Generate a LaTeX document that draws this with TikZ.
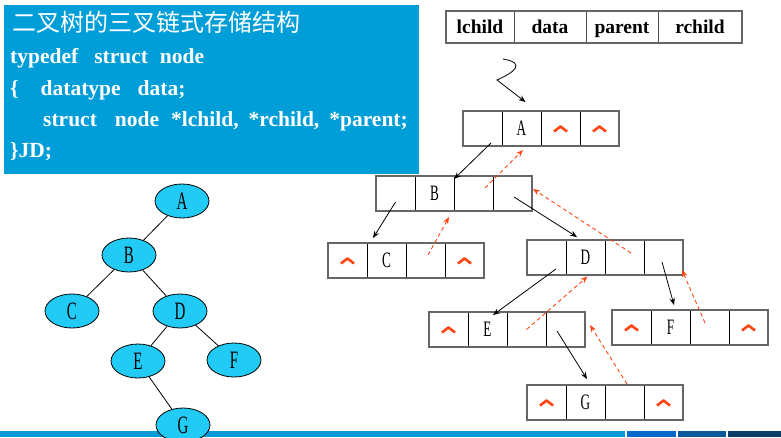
\documentclass[tikz,border=0pt]{standalone}
\usepackage{fontspec}
\setmainfont{Liberation Serif}
\newfontfamily\cjkfont{Noto Sans CJK SC}
\newfontfamily\narrowserif[FakeStretch=0.6]{Liberation Serif}
\usetikzlibrary{arrows.meta,positioning,shapes.geometric}
\definecolor{slideblue}{HTML}{009ED8}
\definecolor{treecyan}{HTML}{22CBF5}
\definecolor{nilred}{HTML}{FF4512}
\definecolor{bandA}{HTML}{0A9AD6}
\definecolor{bandB}{HTML}{0868C8}
\definecolor{bandC}{HTML}{0A5A9A}
\definecolor{bandD}{HTML}{0A3E66}
\tikzset{recordcell/.style={draw,line width=.8pt,minimum width=39pt,minimum height=35pt,inner sep=0pt,outer sep=0pt,font=\narrowserif\fontsize{22}{24}\selectfont}, recframe/.style={draw=black!60,line width=1.3pt},headcell/.style={draw=black!70,line width=1pt,minimum height=32pt,inner sep=0pt,outer sep=0pt,text height=15pt,text depth=2pt,font=\bfseries\fontsize{19.5}{22}\selectfont}, codeline/.style={anchor=base west,text=white,inner sep=0pt,font=\bfseries\fontsize{21.5}{24}\selectfont},childptr/.style={line width=.8pt,-{Stealth[length=7pt,width=5.5pt]}},parentptr/.style={draw=nilred,line width=.9pt,dash pattern=on 4pt off 3pt,-{Stealth[length=7pt,width=5.5pt]}}, nilmark/.style={draw=nilred,line width=2.6pt,line join=round},treenode/.style={ellipse,draw,line width=.8pt,fill=treecyan,minimum width=54pt,minimum height=34pt,inner sep=0pt,font=\narrowserif\fontsize{25}{28}\selectfont},treeedge/.style={line width=.8pt}}
% one trident node: name, top-left corner, lchild, data, parent, rchild
\newcommand{\tripnode}[6]{%
\node[recordcell,anchor=north west] (#1l) at (#2) {#3};
\node[recordcell,right=0pt of #1l] (#1d) {#4};
\node[recordcell,right=0pt of #1d] (#1p) {#5};
\node[recordcell,right=0pt of #1p] (#1r) {#6};
\draw[recframe] (#1l.north west) rectangle (#1r.south east);}

\begin{document}
\begin{tikzpicture}[x=1pt,y=-1pt]
\useasboundingbox (0,0) rectangle (781,437);
% title panel
\fill[slideblue] (4,5) rectangle (419,174);
\node[anchor=base west,text=white,inner sep=0pt,font=\cjkfont\fontsize{24}{26}\selectfont] (title) at (12,31) {二叉树的三叉链式存储结构};
\node[codeline] (code1) at (10,63) {typedef\hspace{16pt}struct\hspace{12pt}node};
\node[codeline] (code2) at (10,95) {\{\hspace{22pt}datatype\hspace{17pt}data;};
\node[codeline] (code3) at (43,126) {struct\hspace{18pt}node\hspace{12pt}*lchild,\hspace{10pt}*rchild,\hspace{10pt}*parent;};
\node[codeline] (code4) at (10,157) {\}JD;};
% bottom band
\fill[bandA] (0,431) rectangle (625,437);
\fill[bandB] (627,431) rectangle (676,437);
\fill[bandC] (678,431) rectangle (726,437);
\fill[bandD] (728,431) rectangle (781,437);
% field layout
\node[headcell,minimum width=68pt,anchor=north west] (hl) at (446,11) {lchild};
\node[headcell,minimum width=72pt,right=0pt of hl] (hd) {data};
\node[headcell,minimum width=72pt,right=0pt of hd] (hp) {parent};
\node[headcell,minimum width=84pt,right=0pt of hp] (hr) {rchild};
\draw[recframe] (hl.north west) rectangle (hr.south east);
% linked nodes
\tripnode{A}{463,111}{}{A}{}{}
\tripnode{B}{376,176}{}{B}{}{}
\tripnode{C}{328,243}{}{C}{}{}
\tripnode{D}{527,240}{}{D}{}{}
\tripnode{E}{429,312}{}{E}{}{}
\tripnode{F}{612,310}{}{F}{}{}
\tripnode{G}{527,385}{}{G}{}{}
\foreach \c in {Ap,Ar,Cl,Cr,El,Fl,Fr,Gl,Gr}
  \draw[nilmark] ([xshift=-6.5pt,yshift=-3pt]\c.center) -- ([yshift=2pt]\c.center) -- ([xshift=6.5pt,yshift=-3pt]\c.center);
% child pointers
\coordinate (entry) at (503,59);
\draw[childptr] (entry) .. controls (526,63) and (515,72) .. (497,80) -- ([xshift=4pt,yshift=9pt]Ad.north);
\draw[childptr] ([xshift=8.5pt,yshift=-14.5pt]Al.center) -- ([yshift=-3pt]Bp.north west);
\draw[childptr] ([yshift=-8.5pt]Bl.center) -- ([xshift=6pt,yshift=5pt]Cd.north west);
\draw[childptr] ([xshift=1.5pt,yshift=-3.5pt]Br.center) -- ([xshift=-8.5pt,yshift=3pt]Dd.north);
\draw[childptr] ([xshift=9.5pt,yshift=-11.5pt]Dl.center) -- ([xshift=5.5pt,yshift=-3pt]Ed.north);
\draw[childptr] ([xshift=-1.5pt,yshift=-4.5pt]Dr.center) -- ([xshift=3.5pt,yshift=5pt]Fd.north);
\draw[childptr] ([xshift=-8.5pt,yshift=-1.5pt]Er.center) -- ([xshift=1.5pt,yshift=6pt]Gd.north);
% parent pointers
\draw[parentptr] ([xshift=11.5pt,yshift=5.5pt]Bp.center) -- ([xshift=1.5pt,yshift=-4pt]Ad.south);
\draw[parentptr] ([xshift=2.5pt,yshift=5.5pt]Cp.center) -- ([xshift=-5pt,yshift=-6pt]Bd.south east);
\draw[parentptr] ([xshift=6.5pt,yshift=4.5pt]Dp.center) -- ([xshift=1pt,yshift=4.5pt]Br.east);
\draw[parentptr] (Ep.center) -- ([xshift=2pt,yshift=-1.5pt]Dd.south);
\draw[parentptr] ([xshift=-4.5pt,yshift=4.5pt]Fp.center) -- ([xshift=-1pt,yshift=5pt]Dr.south east);
\draw[parentptr] ([xshift=2.5pt,yshift=1pt]Gp.north) -- ([xshift=5pt,yshift=4.5pt]Er.east);
% binary tree
\node[treenode] (tA) at (182,201) {A};
\node[treenode] (tB) at (129,255) {B};
\node[treenode] (tC) at (72,311) {C};
\node[treenode] (tD) at (180,311) {D};
\node[treenode] (tE) at (138,361) {E};
\node[treenode] (tF) at (234,360) {F};
\node[treenode] (tG) at (183,425) {G};
\draw[treeedge] (tA) -- (tB);
\draw[treeedge] (tB) -- (tC);
\draw[treeedge] (tB) -- (tD);
\draw[treeedge] (tD) -- (tE);
\draw[treeedge] (tD) -- (tF);
\draw[treeedge] (tE) -- (tG);
\end{tikzpicture}
\end{document}
